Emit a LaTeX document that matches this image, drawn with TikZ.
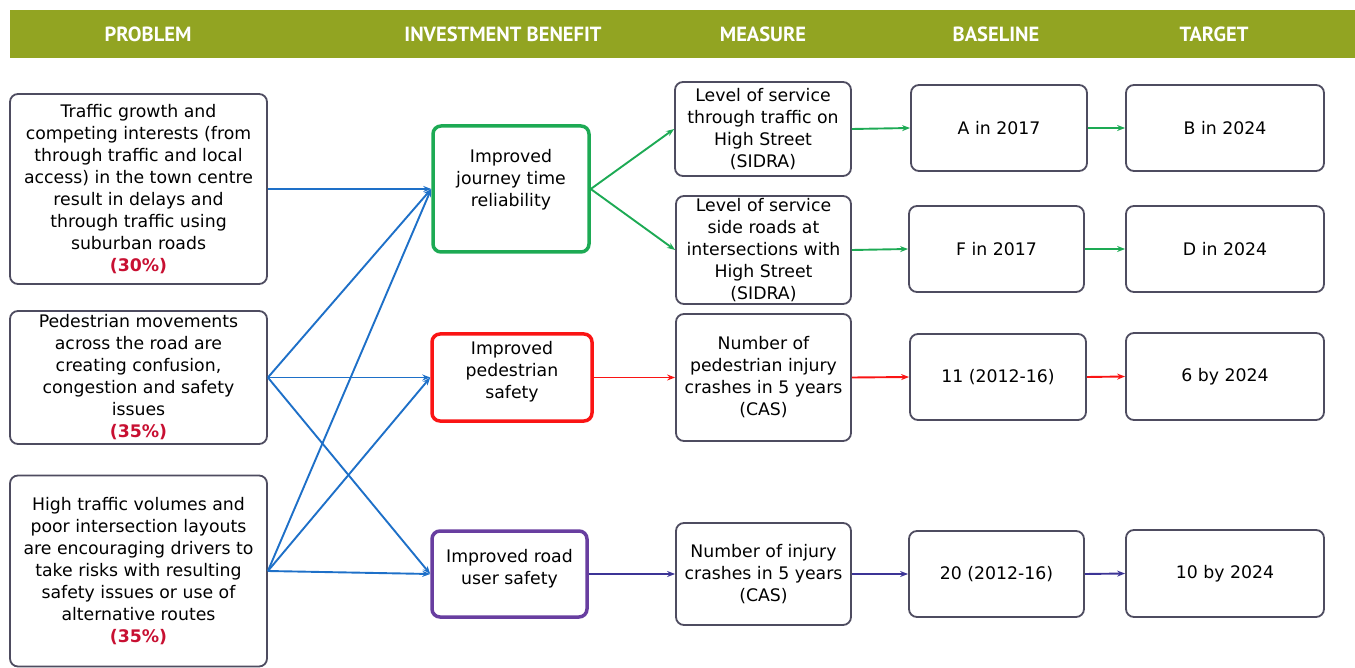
\documentclass[tikz,border=0pt]{standalone}
\usepackage{fontspec}
\setmainfont{DejaVu Sans}
\newfontfamily\titrefont{PT Sans}
\usetikzlibrary{arrows.meta}

\definecolor{bandeau}{RGB}{146,164,34}
\definecolor{cadre}{RGB}{78,76,96}
\definecolor{bleu}{RGB}{30,112,200}
\definecolor{vert}{RGB}{29,170,84}
\definecolor{rouge}{RGB}{250,20,20}
\definecolor{violet}{RGB}{104,62,160}
\definecolor{violetfl}{RGB}{60,52,150}
\definecolor{pourcent}{RGB}{200,16,50}

\tikzset{
    boite/.style={draw=cadre, line width=1.8pt, rounded corners=8pt, align=center,
        inner sep=0pt, fill=white, font=\fontsize{17.3}{22}\selectfont},
    benef/.style={boite, line width=3.5pt},
    titre/.style={text=white, font=\titrefont\bfseries\fontsize{20.5}{22}\selectfont},
    fl/.style={line width=1.9pt, -{Stealth[length=8pt,width=6pt]}},
}
\newcommand{\pc}[1]{{\bfseries\color{pourcent}(#1\%)}}

\begin{document}
\begin{tikzpicture}[x=1pt,y=-1pt]
    \useasboundingbox (0,0) rectangle (1355,668);

    % Bandeau des titres
    \fill[bandeau] (10,10) rectangle (1355,58);
    \node[titre] (tprob) at (148,34) {PROBLEM};
    \node[titre] (tbenef) at (503,34) {INVESTMENT BENEFIT};
    \node[titre] (tmes) at (763,34) {MEASURE};
    \node[titre] (tbase) at (996,34) {BASELINE};
    \node[titre] (tcible) at (1214,34) {TARGET};

    % Problemes
    \node[boite, minimum width=257pt, minimum height=190pt] (p1) at (138.5,189)
        {Traffic growth and\\competing interests (from\\through traffic and local\\access) in the town centre\\result in delays and\\through traffic using\\suburban roads\\\pc{30}};
    \node[boite, minimum width=257pt, minimum height=133pt] (p2) at (138.5,377.5)
        {Pedestrian movements\\across the road are\\creating confusion,\\congestion and safety\\issues\\\pc{35}};
    \node[boite, minimum width=257pt, minimum height=191pt] (p3) at (138.5,571)
        {High traffic volumes and\\poor intersection layouts\\are encouraging drivers to\\take risks with resulting\\safety issues or use of\\alternative routes\\\pc{35}};

    % Benefices
    \node[benef, draw=vert, minimum width=156pt, minimum height=126pt] (b1) at (511,189)
        {Improved\\journey time\\reliability\\\mbox{}};
    \node[benef, draw=rouge, minimum width=160pt, minimum height=87pt] (b2) at (512,377.5)
        {Improved\\pedestrian\\safety\\[-7pt]\mbox{}};
    \node[benef, draw=violet, minimum width=155pt, minimum height=86pt] (b3) at (509.5,574)
        {Improved road\\user safety\\[-8pt]\mbox{}};

    % Mesures
    \node[boite, minimum width=176pt, minimum height=94pt] (m1) at (763,129)
        {Level of service\\through traffic on\\High Street\\(SIDRA)};
    \node[boite, minimum width=175pt, minimum height=108pt] (m2) at (763.5,250)
        {Level of service\\side roads at\\intersections with\\High Street\\(SIDRA)};
    \node[boite, minimum width=175pt, minimum height=127pt] (m3) at (763.5,377.5)
        {Number of\\pedestrian injury\\crashes in 5 years\\(CAS)};
    \node[boite, minimum width=175pt, minimum height=102pt] (m4) at (763.5,574)
        {Number of injury\\crashes in 5 years\\(CAS)};

    % Valeurs de reference
    \node[boite, minimum width=176pt, minimum height=86pt] (r1) at (999,128) {A in 2017};
    \node[boite, minimum width=175pt, minimum height=86pt] (r2) at (996.5,249) {F in 2017};
    \node[boite, minimum width=176pt, minimum height=86pt] (r3) at (998,377) {11 (2012-16)};
    \node[boite, minimum width=175pt, minimum height=86pt] (r4) at (996.5,574) {20 (2012-16)};

    % Cibles
    \node[boite, minimum width=198pt, minimum height=86pt] (c1) at (1225,128) {B in 2024};
    \node[boite, minimum width=198pt, minimum height=86pt] (c2) at (1225,249) {D in 2024};
    \node[boite, minimum width=198pt, minimum height=87pt] (c3) at (1225,376.5) {6 by 2024};
    \node[boite, minimum width=198pt, minimum height=87pt] (c4) at (1225,573.5) {10 by 2024};

    % Liens problemes -> benefices
    \draw[fl, bleu] (p1.east) -- (b1.west);
    \foreach \p in {p2,p3} {
        \foreach \b in {b1,b2,b3} {
            \draw[fl, bleu] (\p.east) -- (\b.west);
        }
    }

    % Liens benefices -> mesures -> valeurs
    \draw[fl, vert] (b1.east) -- (m1.west);
    \draw[fl, vert] (b1.east) -- (m2.west);
    \draw[fl, vert] (m1.east) -- (r1.west);
    \draw[fl, vert] (m2.east) -- (r2.west);
    \draw[fl, vert] (r1.east) -- (c1.west);
    \draw[fl, vert] (r2.east) -- (c2.west);
    \draw[fl, rouge] (b2.east) -- (m3.west);
    \draw[fl, rouge] (m3.east) -- (r3.west);
    \draw[fl, rouge] (r3.east) -- (c3.west);
    \draw[fl, violetfl] (b3.east) -- (m4.west);
    \draw[fl, violetfl] (m4.east) -- (r4.west);
    \draw[fl, violetfl] (r4.east) -- (c4.west);
\end{tikzpicture}
\end{document}
